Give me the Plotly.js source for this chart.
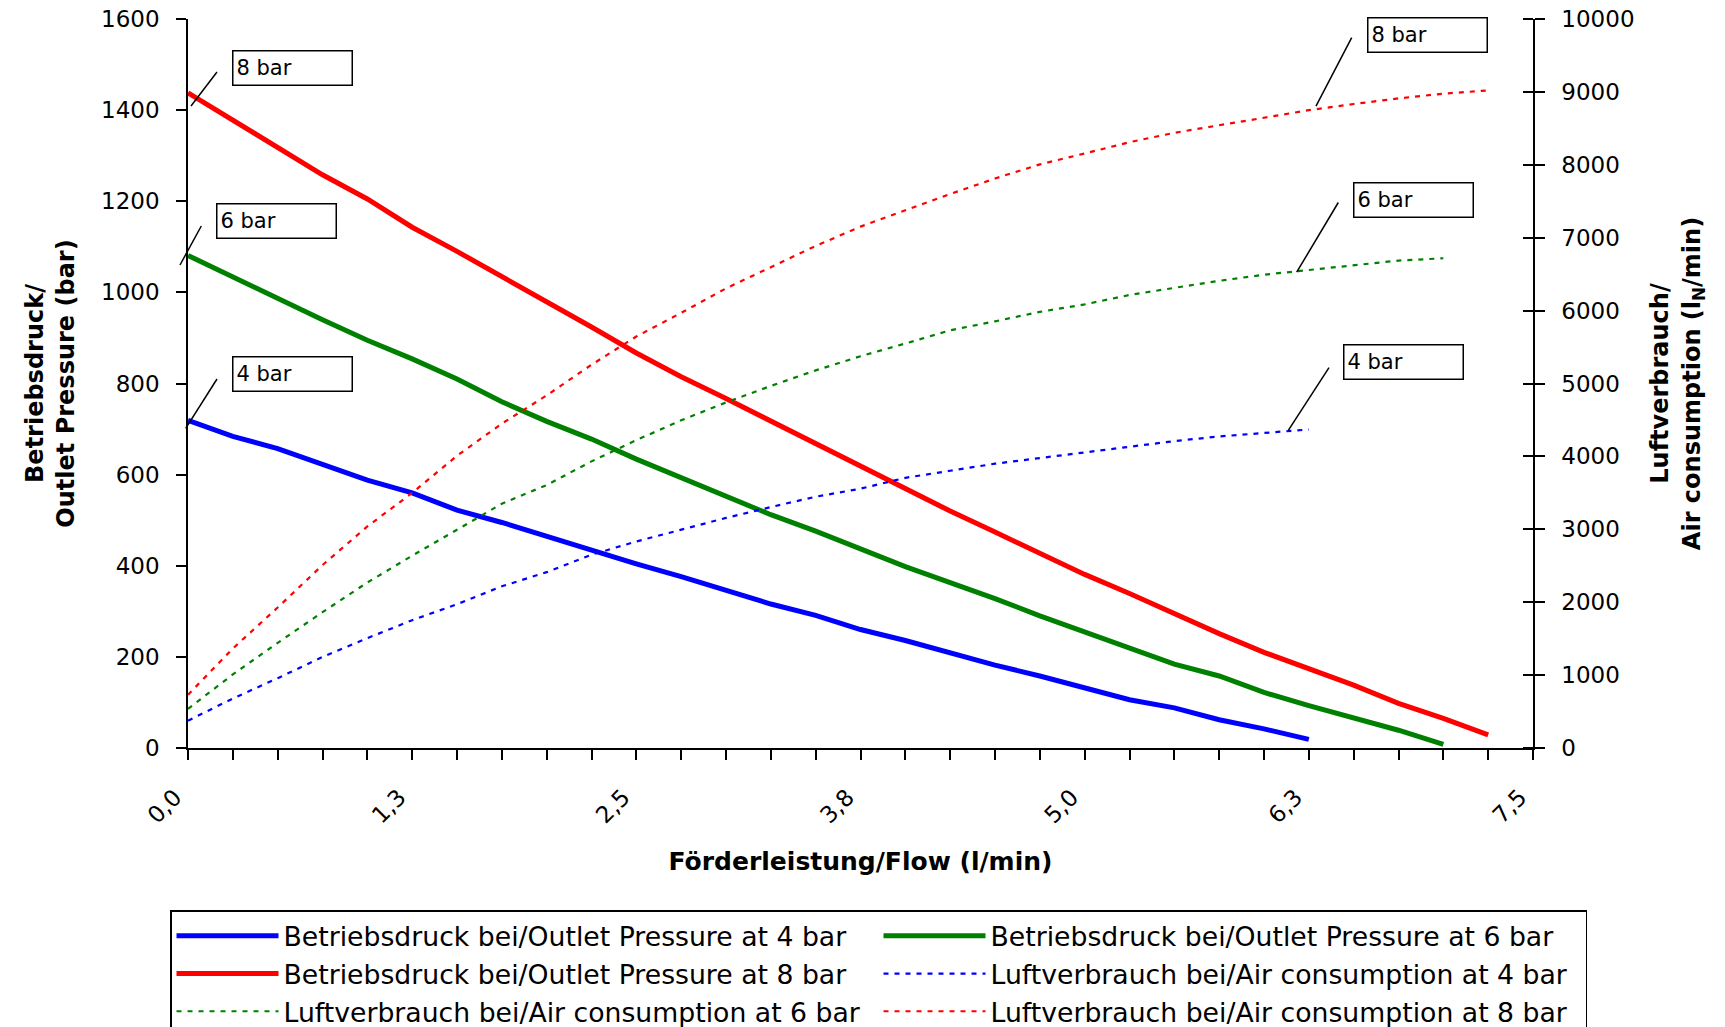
<!DOCTYPE html>
<html>
<head>
<meta charset="utf-8">
<script src="https://cdn.plot.ly/plotly-3.0.1.min.js"></script>
<style>
html,body{margin:0;padding:0;background:#fff;}
#chart{width:1725px;height:1027px;}
</style>
</head>
<body>
<div id="chart"></div>
<script>
// ---- data ----
const flow = [0,0.25,0.5,0.75,1,1.25,1.5,1.75,2,2.25,2.5,2.75,3,3.25,3.5,3.75,4,4.25,4.5,4.75,5,5.25,5.5,5.75,6,6.25,6.5,6.75,7,7.25];

const pressure4 = [719,684,657,622,588,560,522,495,464,435,404,376,347,316,291,260,236,208,182,158,132,106,88,62,42,19];
const pressure6 = [1081,1033,988,940,895,854,810,760,717,678,634,593,551,512,476,438,398,363,328,290,254,220,184,158,122,93,65,39,8];
const pressure8 = [1438,1379,1317,1258,1205,1143,1090,1035,981,924,867,815,767,717,667,619,567,520,474,427,381,339,295,251,210,174,138,98,65,29];

const air4 = [375,679,957,1249,1507,1753,1972,2218,2412,2651,2833,2995,3156,3305,3447,3557,3706,3803,3900,3977,4055,4139,4210,4274,4324,4369];
const air6 = [537,1009,1442,1863,2270,2638,2994,3351,3607,3932,4223,4495,4740,4967,5180,5374,5548,5730,5853,5982,6085,6214,6312,6409,6492,6557,6621,6686,6718];
const air8 = [730,1365,1927,2509,3039,3499,4009,4449,4837,5257,5645,5969,6305,6596,6887,7152,7380,7599,7812,8006,8155,8310,8439,8543,8652,8749,8834,8911,8976,9020];

const seriesNames = [
  'Betriebsdruck bei/Outlet Pressure at 4 bar',
  'Betriebsdruck bei/Outlet Pressure at 6 bar',
  'Betriebsdruck bei/Outlet Pressure at 8 bar',
  'Luftverbrauch bei/Air consumption at 4 bar',
  'Luftverbrauch bei/Air consumption at 6 bar',
  'Luftverbrauch bei/Air consumption at 8 bar'
];
const labelTexts = ['8 bar','6 bar','4 bar'];

const xTickVals = [0,1.25,2.5,3.75,5,6.25,7.5];
const xTickText = ['0,0','1,3','2,5','3,8','5,0','6,3','7,5'];

// ---- styles ----
const BLUE = '#0000FF', GREEN = '#008000', RED = '#FF0000';
const FONT = 'DejaVu Sans';
const DOT = '5px,6px';

function solid(y, name, color){
  return {x: flow.slice(0, y.length), y: y, name: name, type:'scatter', mode:'lines',
          line:{color: color, width: 5}, yaxis:'y', hoverinfo:'x+y'};
}
function dotted(y, name, color){
  return {x: flow.slice(0, y.length), y: y, name: name, type:'scatter', mode:'lines',
          line:{color: color, width: 2.2, dash: DOT}, yaxis:'y2', hoverinfo:'x+y'};
}

const traces = [
  solid(pressure4, seriesNames[0], BLUE),
  solid(pressure6, seriesNames[1], GREEN),
  solid(pressure8, seriesNames[2], RED),
  dotted(air4, seriesNames[3], BLUE),
  dotted(air6, seriesNames[4], GREEN),
  dotted(air8, seriesNames[5], RED)
];

// label boxes (paper coords, top-left) and leader lines
const boxPos = [
  {x:0.03271, y:0.95748, t:labelTexts[0]},
  {x:0.02104, y:0.74801, t:labelTexts[1]},
  {x:0.03249, y:0.53772, t:labelTexts[2]},
  {x:0.87636, y:1.00316, t:labelTexts[0]},
  {x:0.86595, y:0.77682, t:labelTexts[1]},
  {x:0.85896, y:0.55377, t:labelTexts[2]}
];
const leaders = [
  [0.00223,0.88066,0.02156,0.92730],
  [-0.00595,0.66255,0.00989,0.71605],
  [-0.00171,0.43855,0.02156,0.50617],
  [0.83866,0.88052,0.86520,0.97435],
  [0.82431,0.65267,0.85524,0.74829],
  [0.81807,0.43580,0.84833,0.52181]
];

const annotations = boxPos.map(b => ({
  xref:'paper', yref:'paper', x:b.x, y:b.y, xanchor:'left', yanchor:'top',
  text:b.t, showarrow:false, align:'left', valign:'middle',
  width:112, height:27, borderwidth:1.5, borderpad:3, bordercolor:'#000', bgcolor:'#fff',
  font:{family:FONT, size:21, color:'#000'}
}));
const shapes = leaders.map(l => ({
  type:'line', xref:'paper', yref:'paper', x0:l[0], y0:l[1], x1:l[2], y1:l[3],
  line:{color:'#000', width:1.5}
}));

const tickFont = {family:FONT, size:23, color:'#000'};
const titleFont = {family:FONT, size:24, color:'#000'};

const layout = {
  width:1725, height:1027,
  margin:{l:188, r:192, t:19, b:279, pad:0, autoexpand:false},
  paper_bgcolor:'#fff', plot_bgcolor:'#fff',
  showlegend:true,
  xaxis:{
    range:[0,7.5], tickmode:'array', tickvals:xTickVals, ticktext:xTickText,
    ticks:'outside', ticklen:10, tickwidth:1.5, tickcolor:'#000', tickangle:-45,
    ticklabelstandoff:15, ticklabelshift:-13,
    minor:{tickmode:'linear', tick0:0, dtick:0.25, ticks:'outside', ticklen:10, tickwidth:1.5, tickcolor:'#000', showgrid:false},
    showline:true, linecolor:'#000', linewidth:1.5, showgrid:false, zeroline:false,
    tickfont:tickFont,
    title:{text:'<b>Förderleistung/Flow (l/min)</b>', font:{family:FONT, size:25, color:'#000'}, standoff:25}
  },
  yaxis:{
    range:[0,1600], tickmode:'linear', tick0:0, dtick:200,
    ticks:'outside', ticklen:10, tickwidth:1.5, tickcolor:'#000', ticklabelstandoff:12,
    showline:true, linecolor:'#000', linewidth:1.5, showgrid:false, zeroline:false,
    tickfont:tickFont,
    title:{text:'<b>Betriebsdruck/<br>Outlet Pressure (bar)</b>', font:titleFont, standoff:20}
  },
  yaxis2:{
    overlaying:'y', side:'right', anchor:'x',
    range:[0,10000], tickmode:'linear', tick0:0, dtick:1000,
    exponentformat:'none', separatethousands:false, tickformat:'d',
    ticks:'outside', ticklen:10, tickwidth:1.5, tickcolor:'#000', ticklabelstandoff:12,
    minor:{tickmode:'linear', tick0:0, dtick:1000, ticks:'inside', ticklen:10, tickwidth:1.5, tickcolor:'#000', showgrid:false},
    showline:true, linecolor:'#000', linewidth:1.5, showgrid:false, zeroline:false,
    tickfont:tickFont,
    title:{text:'<b>Luftverbrauch/<br>Air consumption (l<sub>N</sub>/min)</b>', font:titleFont, standoff:18}
  },
  legend:{
    orientation:'h', x:-0.01338, y:-0.2229, xanchor:'left', yanchor:'top',
    itemwidth:102, entrywidth:590, entrywidthmode:'pixels',
    font:{family:FONT, size:26.7, color:'#000'},
    bordercolor:'#000', borderwidth:1.5, bgcolor:'#fff', traceorder:'normal'
  },
  annotations: annotations,
  shapes: shapes
};

Plotly.newPlot('chart', traces, layout, {displayModeBar:false, responsive:false});
</script>
</body>
</html>
